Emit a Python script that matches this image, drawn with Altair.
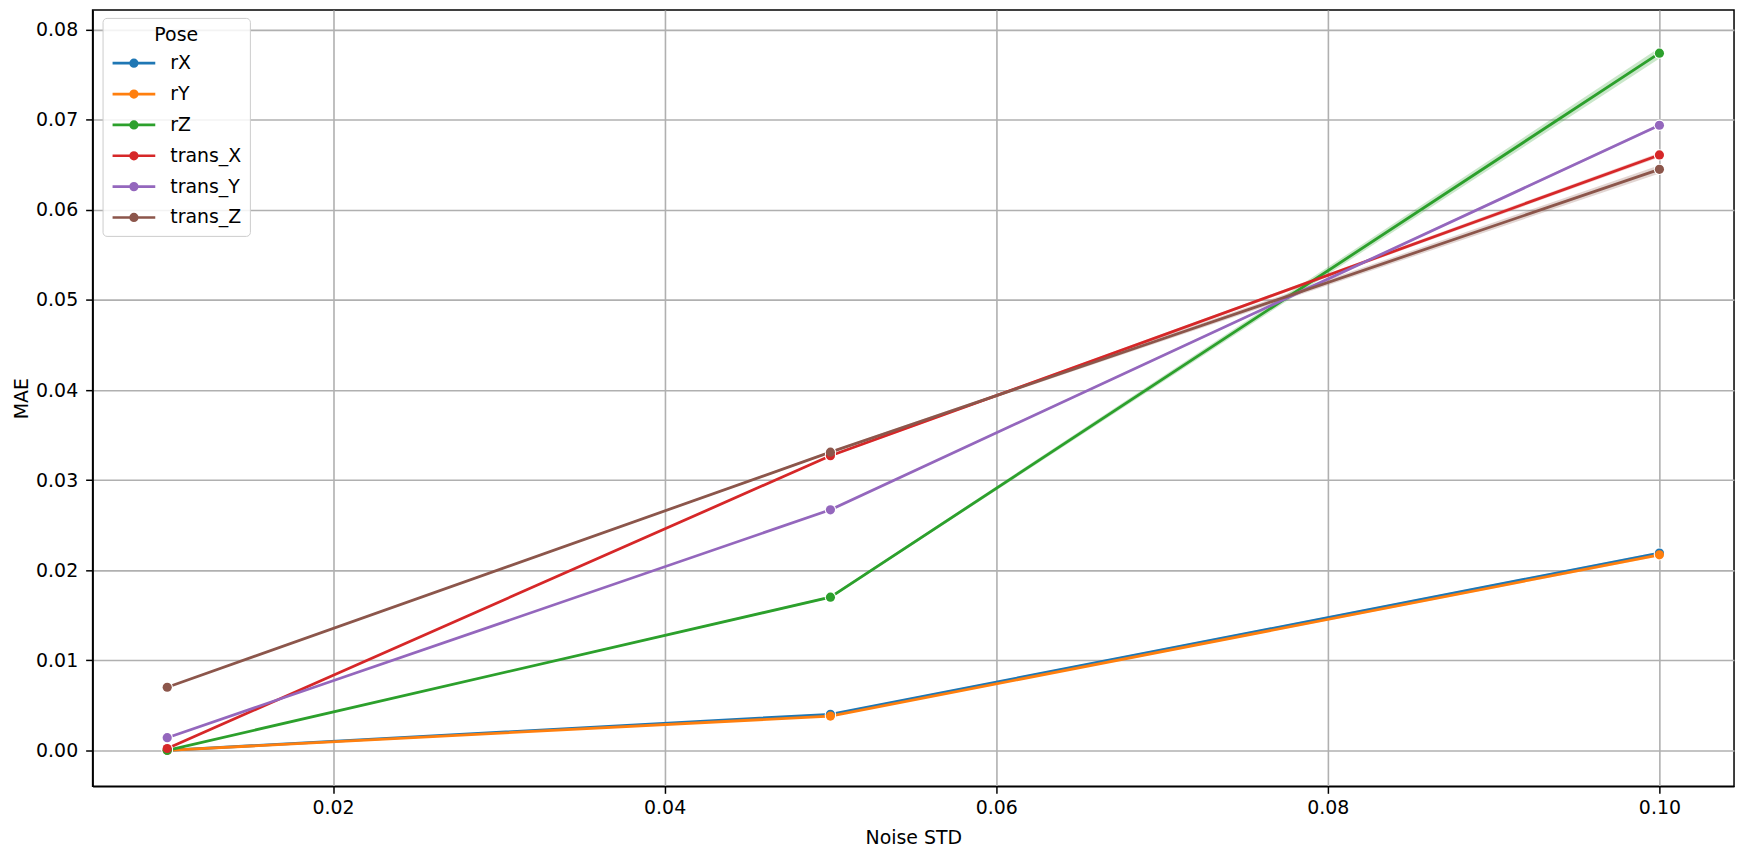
import altair as alt
import pandas as pd

# ---- data ----
noise_std = [0.01, 0.05, 0.10]
poses = ["rX", "rY", "rZ", "trans_X", "trans_Y", "trans_Z"]
colors = ["#1f77b4", "#ff7f0e", "#2ca02c", "#d62728", "#9467bd", "#8c564b"]

mae_rX = [0.0000, 0.0040, 0.0219]
mae_rY = [0.0000, 0.0038, 0.0217]
mae_rZ = [0.0000, 0.0170, 0.0774]
mae_trans_X = [0.0002, 0.0327, 0.0661]
mae_trans_Y = [0.0014, 0.0267, 0.0694]
mae_trans_Z = [0.0070, 0.0331, 0.0645]

# half-width of the confidence band
ci_rX = [0.00002, 0.00008, 0.00015]
ci_rY = [0.00002, 0.00008, 0.00015]
ci_rZ = [0.00002, 0.00012, 0.00060]
ci_trans_X = [0.00002, 0.00010, 0.00025]
ci_trans_Y = [0.00002, 0.00008, 0.00015]
ci_trans_Z = [0.00002, 0.00012, 0.00045]

series = [mae_rX, mae_rY, mae_rZ, mae_trans_X, mae_trans_Y, mae_trans_Z]
cis = [ci_rX, ci_rY, ci_rZ, ci_trans_X, ci_trans_Y, ci_trans_Z]

rows = []
for i, (pose, vals, ci) in enumerate(zip(poses, series, cis)):
    for x, v, c in zip(noise_std, vals, ci):
        rows.append({"pose": pose, "noise": x, "mae": v, "lo": v - c, "hi": v + c, "k": i})
df = pd.DataFrame(rows)

FONT = "DejaVu Sans"
FS = 19

xscale = alt.Scale(domain=[0.0055, 0.1045], nice=False, zero=False)
yscale = alt.Scale(domain=[-0.004, 0.0822], nice=False, zero=False)
cscale = alt.Scale(domain=poses, range=colors)

xaxis = alt.Axis(values=[0.02, 0.04, 0.06, 0.08, 0.10], format=".2f", title="Noise STD",
                 labelPadding=5, titlePadding=11)
yaxis = alt.Axis(values=[0, 0.01, 0.02, 0.03, 0.04, 0.05, 0.06, 0.07, 0.08], format=".2f",
                 title="MAE", labelPadding=8, titlePadding=4)

X = alt.X("noise:Q", scale=xscale, axis=xaxis)
Y = alt.Y("mae:Q", scale=yscale, axis=yaxis)

legend_path = "M-0.95,0L2.95,0M0.7,0A0.3,0.3,0,1,0,1.3,0A0.3,0.3,0,1,0,0.7,0Z"
legend = alt.Legend(
    title="Pose", orient="none", legendX=10, legendY=8,
    symbolType=legend_path, symbolSize=484, symbolStrokeWidth=2.7,
    symbolOpacity=1, labelOffset=35, padding=8,
    fillColor="rgba(255,255,255,0.85)", strokeColor="#cccccc", cornerRadius=4,
    titleAnchor="middle", titleAlign="center", titleFontSize=FS, titleFontWeight="normal",
    titleFont=FONT, labelFont=FONT, labelFontSize=FS, labelColor="black", titleColor="black",
    rowPadding=8, titlePadding=6,
)
color = alt.Color("pose:N", scale=cscale, legend=legend, sort=poses)

base = alt.Chart(df)

band = base.mark_area(opacity=0.25).encode(
    x=X,
    y=alt.Y("lo:Q", scale=yscale, axis=yaxis),
    y2="hi:Q",
    color=alt.Color("pose:N", scale=cscale, legend=None),
    detail="pose:N",
)

line = base.mark_line(strokeWidth=2.8).encode(x=X, y=Y, color=color, order="k:Q")
halo = base.mark_point(filled=True, size=130, opacity=1, shape="circle").encode(
    x=X, y=Y, color=alt.value("white"))
pts = base.mark_point(filled=True, size=85, opacity=1, shape="circle").encode(
    x=X, y=Y, color=color)

main = alt.layer(line, halo, pts)

chart = alt.layer(band, main).resolve_scale(color="independent").properties(
    width=1649, height=780,
    autosize=alt.AutoSizeParams(type="none"),
    padding={"left": 85, "top": 0, "right": 6, "bottom": 60},
).configure_view(
    stroke="black", strokeWidth=1.5
).configure_axis(
    labelFont=FONT, titleFont=FONT, labelFontSize=FS, titleFontSize=FS,
    titleFontWeight="normal", labelColor="black", titleColor="black",
    domainColor="black", domainWidth=1.5, tickColor="black", tickWidth=1.5, tickSize=7,
    gridColor="#b0b0b0", gridWidth=1.6,
)

chart.save("out.html", embed_options={"renderer": "svg", "actions": False})
